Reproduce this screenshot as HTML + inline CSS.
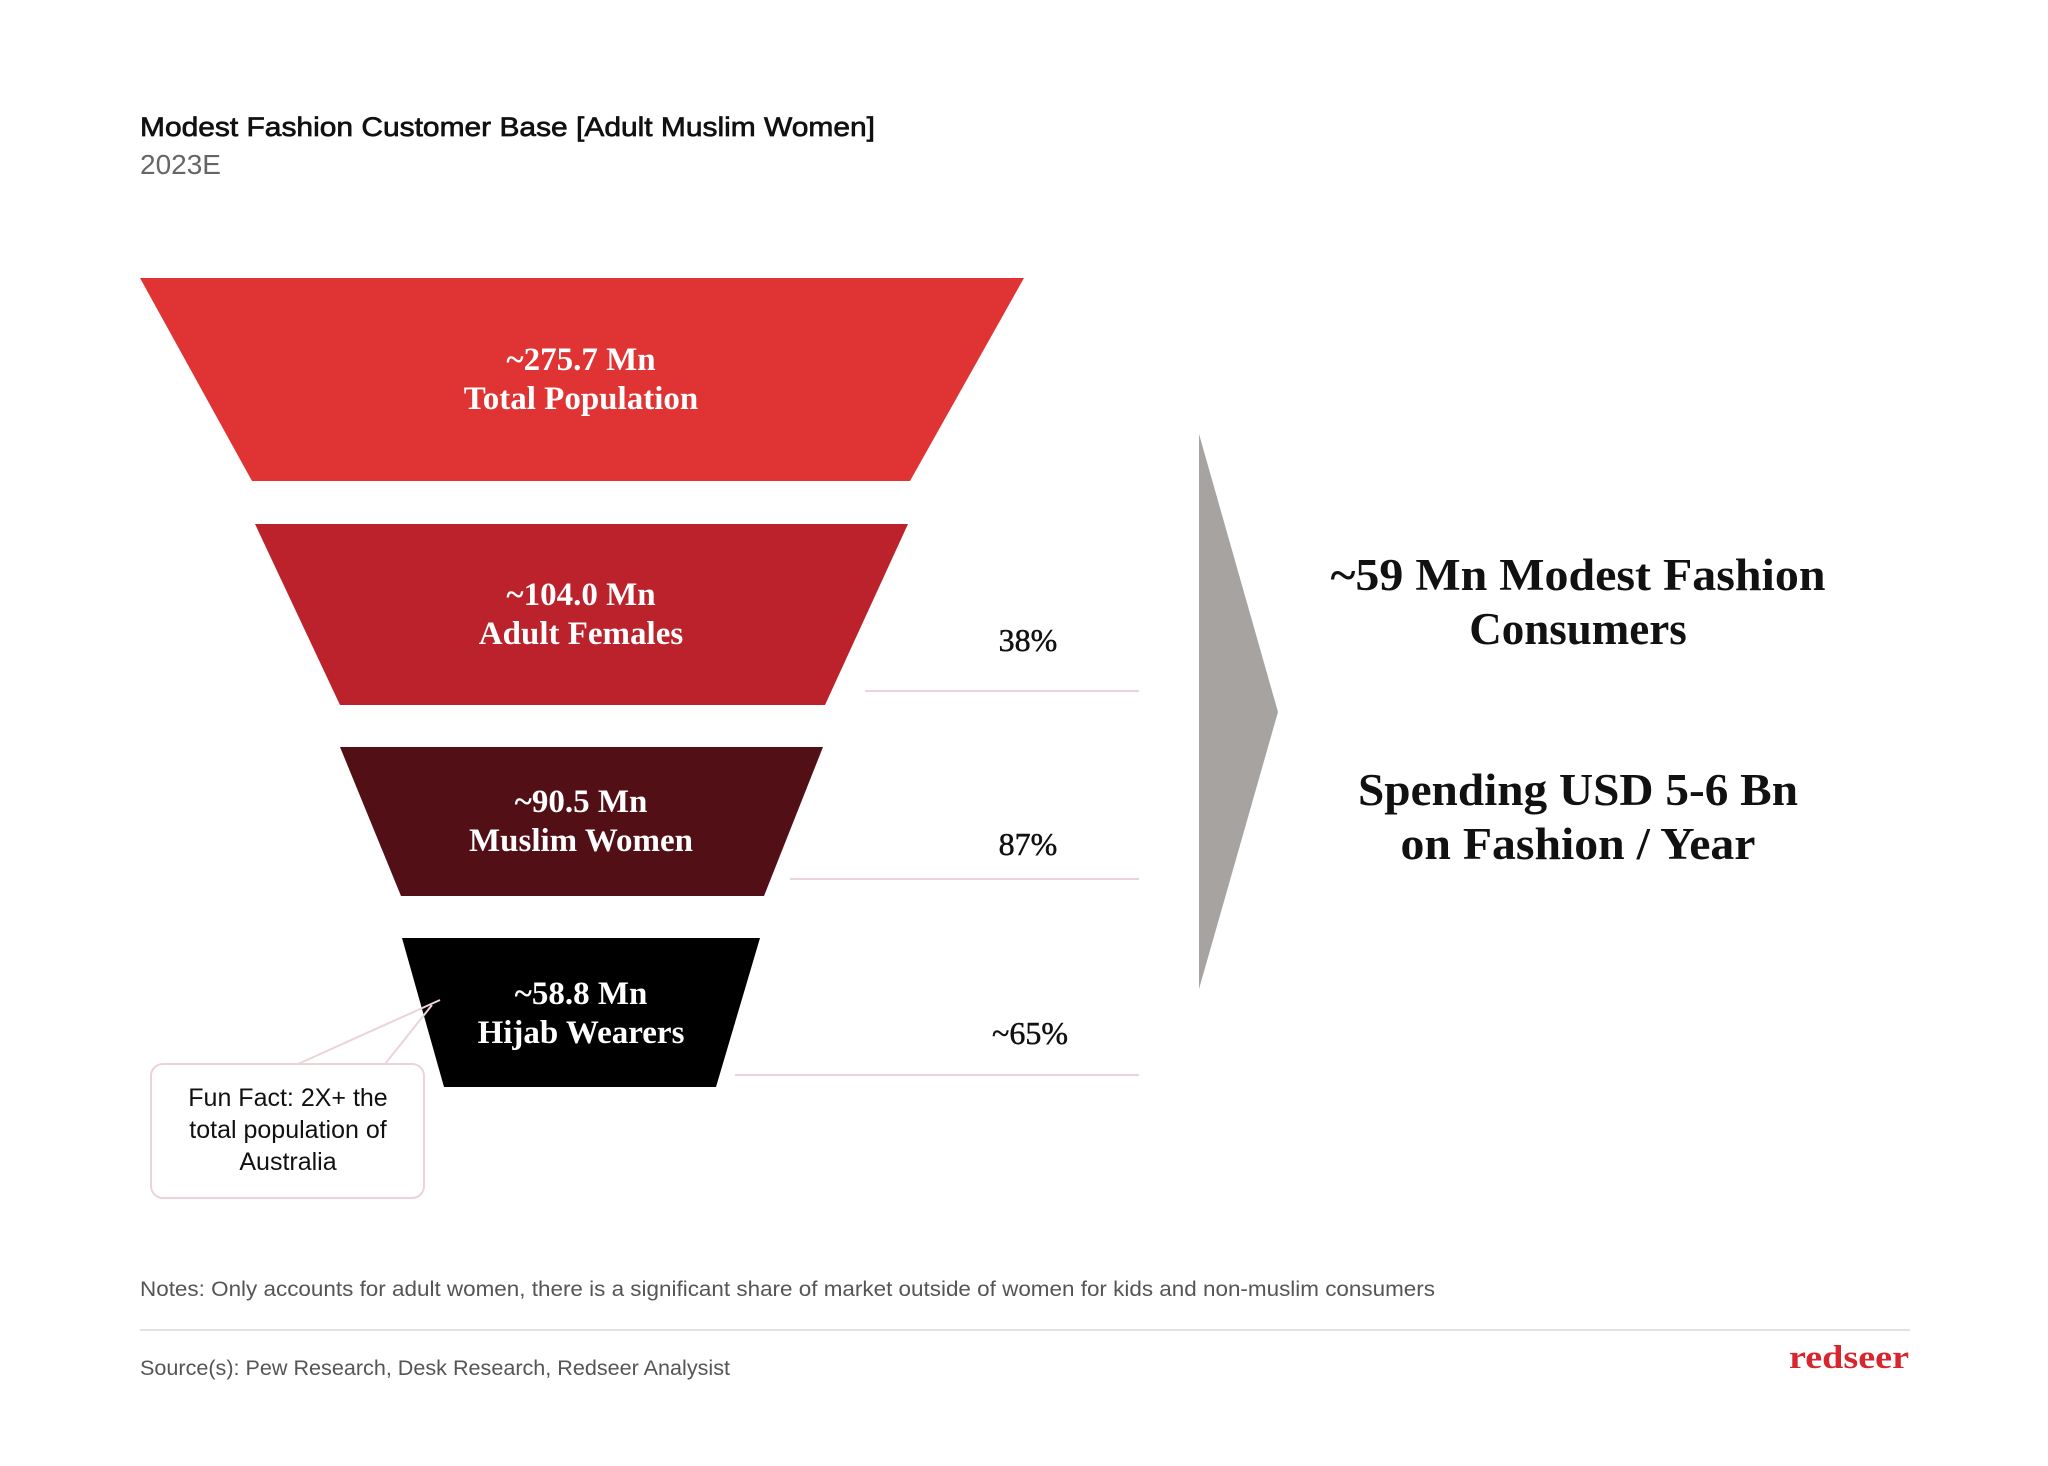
<!DOCTYPE html>
<html><head><meta charset="utf-8"><style>
html,body{margin:0;padding:0;background:#fff;}
body{width:2048px;height:1466px;position:relative;overflow:hidden;font-family:"Liberation Sans",sans-serif;}
svg{position:absolute;left:0;top:0;}
</style></head><body>
<svg width="2048" height="1466" viewBox="0 0 2048 1466">
<text x="140" y="136" font-family="Liberation Sans, sans-serif" font-size="27" fill="#111" stroke="#111" stroke-width="0.7" textLength="735" lengthAdjust="spacingAndGlyphs">Modest Fashion Customer Base [Adult Muslim Women]</text>
<text x="140" y="174" font-family="Liberation Sans, sans-serif" font-size="28" fill="#666">2023E</text>

<polygon points="140,278 1024,278 910,481 252,481" fill="#e03434"/>
<polygon points="255,524 908,524 825,705 340,705" fill="#bb222b"/>
<polygon points="340,747 823,747 764,896 401,896" fill="#521016"/>
<polygon points="402,938 760,938 716,1087 444,1087" fill="#000"/>

<g font-family="Liberation Serif, serif" font-weight="bold" font-size="33" fill="#fff" text-anchor="middle">
<text x="581" y="370">~275.7 Mn</text><text x="581" y="409">Total Population</text>
<text x="581" y="605">~104.0 Mn</text><text x="581" y="644">Adult Females</text>
<text x="581" y="812">~90.5 Mn</text><text x="581" y="851">Muslim Women</text>
<text x="581" y="1004">~58.8 Mn</text><text x="581" y="1043">Hijab Wearers</text>
</g>

<g stroke="#ecd3d8" stroke-width="2">
<line x1="865" y1="691" x2="1139" y2="691"/>
<line x1="790" y1="879" x2="1139" y2="879"/>
<line x1="735" y1="1075" x2="1139" y2="1075"/>
</g>
<g font-family="Liberation Serif, serif" font-size="32" fill="#111" text-anchor="middle" stroke="#111" stroke-width="0.5">
<text x="1028" y="651">38%</text>
<text x="1028" y="855">87%</text>
<text x="1030" y="1044">~65%</text>
</g>

<polygon points="1199,434 1278,712 1199,989" fill="#a7a3a1"/>

<g font-family="Liberation Serif, serif" font-weight="bold" font-size="45" fill="#111" text-anchor="middle">
<text x="1578" y="590" textLength="495" lengthAdjust="spacingAndGlyphs">~59 Mn  Modest Fashion</text>
<text x="1578" y="644">Consumers</text>
<text x="1578" y="805" textLength="440" lengthAdjust="spacingAndGlyphs">Spending USD 5-6 Bn</text>
<text x="1578" y="859" textLength="355" lengthAdjust="spacingAndGlyphs">on Fashion / Year</text>
</g>

<g stroke="#ecd3d8" stroke-width="2" fill="none">
<line x1="298" y1="1064" x2="440" y2="1000"/>
<line x1="385" y1="1064" x2="432" y2="1005"/>
</g>
<rect x="151" y="1064" width="273" height="134" rx="12" fill="#fff" stroke="#ecd3d8" stroke-width="2"/>
<g font-family="Liberation Sans, sans-serif" font-size="25" fill="#111" text-anchor="middle">
<text x="288" y="1106">Fun Fact: 2X+ the</text>
<text x="288" y="1138">total population of</text>
<text x="288" y="1170">Australia</text>
</g>

<text x="140" y="1296" font-family="Liberation Sans, sans-serif" font-size="21" fill="#555" textLength="1295" lengthAdjust="spacingAndGlyphs">Notes: Only accounts for adult women, there is a significant share of market outside of women for kids and non-muslim consumers</text>
<line x1="140" y1="1330" x2="1910" y2="1330" stroke="#e2e2e2" stroke-width="2"/>
<text x="140" y="1375" font-family="Liberation Sans, sans-serif" font-size="21" fill="#555" textLength="590" lengthAdjust="spacingAndGlyphs">Source(s): Pew Research, Desk Research, Redseer Analysist</text>
<text x="1789" y="1368" font-family="Liberation Serif, serif" font-weight="bold" font-size="33" fill="#d7262d" textLength="120" lengthAdjust="spacingAndGlyphs">redseer</text>
</svg>
</body></html>
